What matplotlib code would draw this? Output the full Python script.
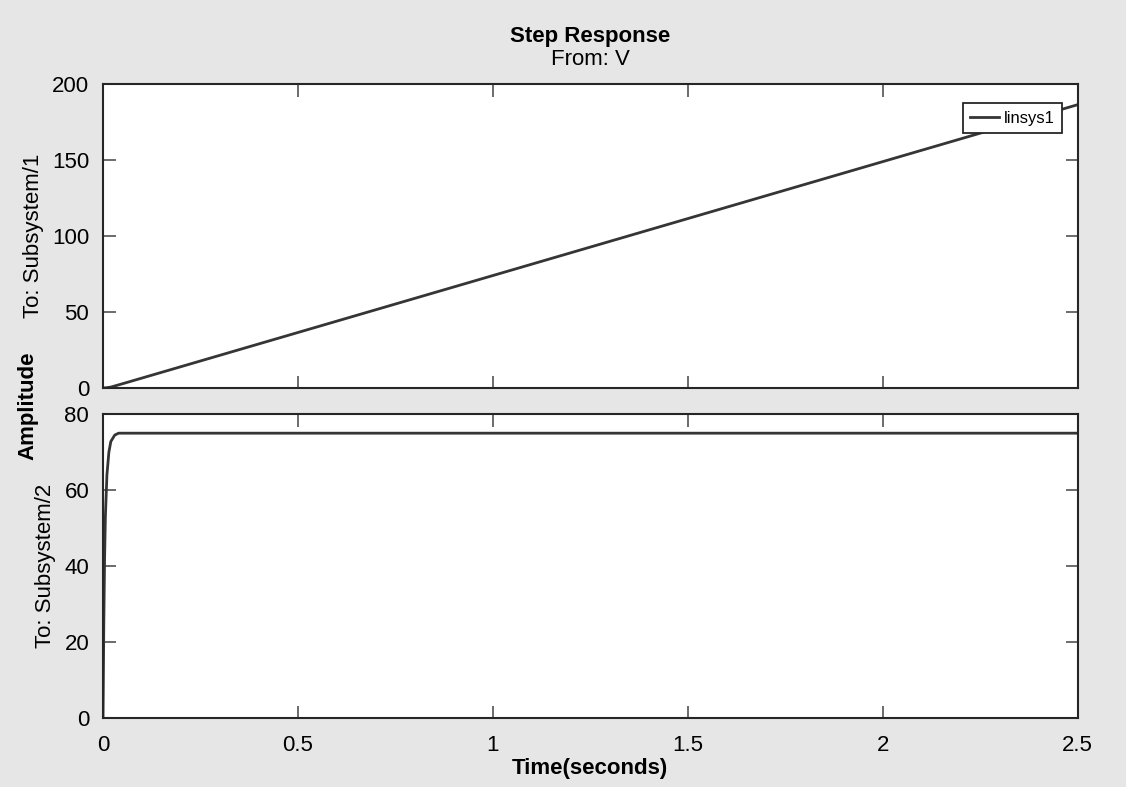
"""
Step response plot (MATLAB style) for a two-output linear system.
"""

import matplotlib
import matplotlib.pyplot as plt
matplotlib.use('Agg')

# output 1: ramp-like response
t1 = [0, 0.01, 0.02, 0.05, 2.5]
y1 = [0, 0.2, 0.6, 2.8, 186.5]

# output 2: fast first-order rise to 75
t2 = [0, 0.002, 0.004, 0.006, 0.01, 0.015, 0.02, 0.03, 0.04, 2.5]
y2 = [0, 25, 42, 53, 64, 70, 72.8, 74.5, 75, 75]

xticks = [0, 0.5, 1, 1.5, 2, 2.5]
xticklabels = ['0', '0.5', '1', '1.5', '2', '2.5']
yticks1 = [0, 50, 100, 150, 200]
yticks2 = [0, 20, 40, 60, 80]


def main():
    plt.rcParams['font.family'] = ['Liberation Sans', 'DejaVu Sans']
    line_color = '#353535'
    edge = '#262626'
    fs = 16

    fig = plt.figure(figsize=(11.26, 7.87), dpi=100)
    fig.patch.set_facecolor('#e6e6e6')

    ax1 = fig.add_axes([0.0915, 0.507, 0.8655, 0.386])
    ax2 = fig.add_axes([0.0915, 0.0877, 0.8655, 0.386])

    ax1.plot(t1, y1, color=line_color, lw=2, label='linsys1')
    ax2.plot(t2, y2, color=line_color, lw=2)

    for ax, yt in ((ax1, yticks1), (ax2, yticks2)):
        ax.set_facecolor('white')
        ax.set_xlim(0, 2.5)
        ax.set_ylim(yt[0], yt[-1])
        ax.set_xticks(xticks)
        ax.set_yticks(yt)
        ax.tick_params(direction='in', length=9, width=1.1, color='#444444',
                       top=True, right=True, labelsize=fs, pad=10)
        for s in ax.spines.values():
            s.set_color(edge)
            s.set_linewidth(1.5)

    ax1.set_xticklabels([])
    ax2.set_xticklabels(xticklabels)
    ax2.tick_params(axis='x', pad=12)

    ax1.set_ylabel('To: Subsystem/1', fontsize=fs, labelpad=6)
    ax2.set_ylabel('To: Subsystem/2', fontsize=fs, labelpad=6)
    ax2.set_xlabel('Time(seconds)', fontsize=fs, fontweight='bold',
                   labelpad=2)

    fig.text(0.025, 0.485, 'Amplitude', rotation=90, fontsize=fs,
             fontweight='bold', ha='center', va='center')
    fig.text(0.5245, 0.954, 'Step Response', fontsize=fs,
             fontweight='bold', ha='center', va='center')
    fig.text(0.5245, 0.925, 'From: V', fontsize=fs, ha='center',
             va='center')

    leg = ax1.legend(loc='upper right', fontsize=12, frameon=True,
                     fancybox=False, handlelength=1.7, borderpad=0.45,
                     handletextpad=0.3, borderaxespad=0,
                     bbox_to_anchor=(0.984, 0.9375))
    leg.get_frame().set_edgecolor(edge)
    leg.get_frame().set_linewidth(1.3)
    leg.get_frame().set_alpha(1)

    plt.savefig('out.png', dpi=100, facecolor=fig.get_facecolor())


if __name__ == '__main__':
    main()
